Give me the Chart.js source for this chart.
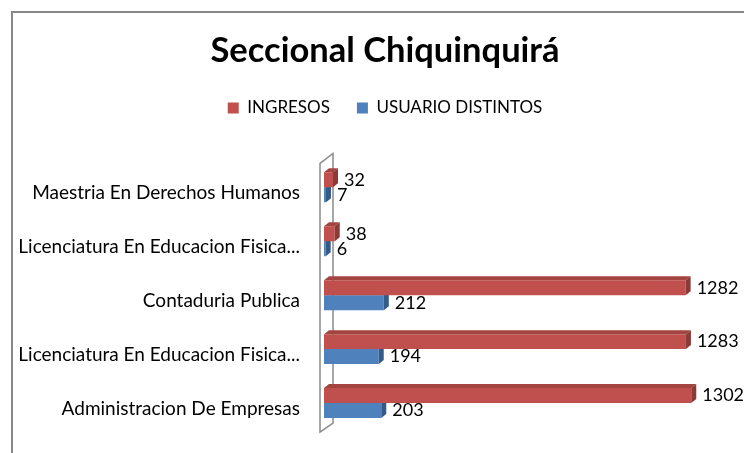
<!DOCTYPE html>
<html>
<head>
<meta charset="utf-8">
<script src="https://cdn.jsdelivr.net/npm/chart.js@4.4.0/dist/chart.umd.min.js"></script>
<style>
  html, body { margin: 0; padding: 0; background: #fff; overflow: hidden; }
  #frame { position: absolute; left: 11px; top: 11px; border-left: 2px solid #878787; border-top: 2px solid #878787; }
  canvas { display: block; }
</style>
</head>
<body>
<div id="frame"><canvas id="myChart" width="744" height="445"></canvas></div>
<script>
const categories = [
  'Maestria En Derechos Humanos',
  'Licenciatura En Educacion Fisica...',
  'Contaduria Publica',
  'Licenciatura En Educacion Fisica...',
  'Administracion De Empresas'
];
const ingresos = [32, 38, 1282, 1283, 1302];
const usuarios = [7, 6, 212, 194, 203];
const seriesNames = ['INGRESOS', 'USUARIO DISTINTOS'];
const frontColors = ['#C0504D', '#4F81BD'];
const topColors = ['#A44441', '#446FA3'];
const sideColors = ['#8C3A37', '#345A88'];

Chart.defaults.font.family = 'Lato';
Chart.defaults.color = '#000';

// depth of the fake 3d bars
const dx = 5, dy = 4;

// push the plot down below the legend
const legendGap = {
  id: 'legendGap',
  beforeInit(chart) {
    const fitValue = chart.legend.fit;
    chart.legend.fit = function fit() {
      fitValue.bind(chart.legend)();
      this.height += 34;
    };
  }
};

// the grey back wall on the left of the bars
const backWall = {
  id: 'backWall',
  beforeDatasetsDraw(chart) {
    const { ctx, chartArea: a } = chart;
    ctx.save();
    ctx.beginPath();
    ctx.moveTo(a.left - 4, a.top + 3);
    ctx.lineTo(a.left + 9, a.top - 7);
    ctx.lineTo(a.left + 9, a.bottom - 7);
    ctx.lineTo(a.left - 4, a.bottom + 2);
    ctx.closePath();
    ctx.fillStyle = '#fff';
    ctx.fill();
    ctx.lineWidth = 1.5;
    ctx.strokeStyle = '#8a8a8a';
    ctx.stroke();
    ctx.restore();
  }
};

// top and side faces of every bar
const barFaces = {
  id: 'barFaces',
  afterDatasetDraw(chart, args) {
    const ctx = chart.ctx;
    const i = args.index;
    ctx.save();
    args.meta.data.forEach(function (bar) {
      const p = bar.getProps(['x', 'y', 'base', 'height'], true);
      const top = p.y - p.height / 2;
      const bottom = p.y + p.height / 2;
      ctx.fillStyle = topColors[i];
      ctx.beginPath();
      ctx.moveTo(p.base, top);
      ctx.lineTo(p.base + dx, top - dy);
      ctx.lineTo(p.x + dx, top - dy);
      ctx.lineTo(p.x, top);
      ctx.closePath();
      ctx.fill();
      ctx.fillStyle = sideColors[i];
      ctx.beginPath();
      ctx.moveTo(p.x, top);
      ctx.lineTo(p.x + dx, top - dy);
      ctx.lineTo(p.x + dx, bottom - dy);
      ctx.lineTo(p.x, bottom);
      ctx.closePath();
      ctx.fill();
    });
    ctx.restore();
  }
};

const valueLabels = {
  id: 'valueLabels',
  afterDatasetsDraw(chart) {
    const ctx = chart.ctx;
    ctx.save();
    ctx.font = '18px Lato';
    ctx.fillStyle = '#000';
    ctx.textAlign = 'left';
    ctx.textBaseline = 'middle';
    chart.data.datasets.forEach(function (ds, i) {
      chart.getDatasetMeta(i).data.forEach(function (bar, j) {
        ctx.fillText(ds.data[j], bar.x + dx + 6, bar.y);
      });
    });
    ctx.restore();
  }
};

const dataSource = {
  labels: categories,
  datasets: [
    { label: seriesNames[0], data: ingresos, backgroundColor: frontColors[0] },
    { label: seriesNames[1], data: usuarios, backgroundColor: frontColors[1] }
  ]
};

var ctx = document.getElementById('myChart');
var myBarChart = new Chart(ctx, {
  type: 'bar',
  data: dataSource,
  plugins: [legendGap, backWall, barFaces, valueLabels],
  options: {
    indexAxis: 'y',
    responsive: false,
    animation: false,
    events: [],
    layout: { padding: { top: 0, right: 0, bottom: 28, left: 0 } },
    datasets: {
      bar: { categoryPercentage: 0.556, barPercentage: 1, borderWidth: 0 }
    },
    plugins: {
      title: {
        display: true,
        text: 'Seccional Chiquinquirá',
        font: { size: 34.5, weight: 'bold' },
        color: '#000',
        padding: { top: 17, bottom: 1 }
      },
      legend: {
        display: true,
        labels: { boxWidth: 11, boxHeight: 11, padding: 27, font: { size: 17 }, color: '#000' }
      },
      tooltip: { enabled: false }
    },
    scales: {
      x: { display: false, min: 0, max: 1535 },
      y: {
        // tickLength gives the gap between labels and bars (marks are hidden)
        grid: { display: false, drawTicks: true, tickLength: 24 },
        border: { display: false },
        ticks: { font: { size: 19 }, color: '#000', padding: 0, labelOffset: 5.5, autoSkip: false },
        afterFit(scale) { scale.width = 311; }
      }
    }
  }
});
</script>
</body>
</html>
